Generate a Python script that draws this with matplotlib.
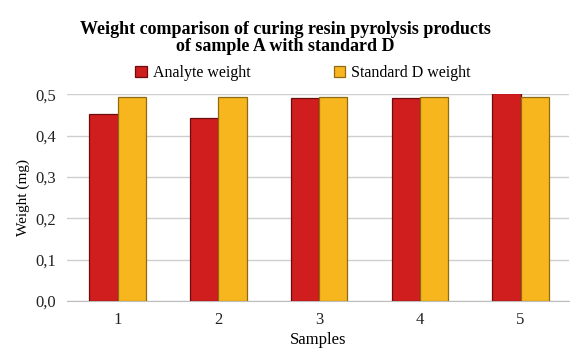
import numpy as np
import matplotlib.pyplot as plt
from matplotlib.ticker import FuncFormatter

plt.rcParams['font.family'] = ['Liberation Serif', 'DejaVu Serif']

samples = ['1', '2', '3', '4', '5']
analyte = [0.453, 0.443, 0.490, 0.490, 0.502]
standard = [0.493, 0.493, 0.492, 0.492, 0.492]

fig = plt.figure(figsize=(5.7, 3.5), dpi=100)
ax = fig.add_axes([0.118, 0.14, 0.88, 0.591])

x = np.arange(len(samples))
w = 0.28
ax.bar(x - w / 2, analyte, w, color='#d01e1e', edgecolor='#6e0c0c', linewidth=0.9,
       label='Analyte weight', zorder=3)
ax.bar(x + w / 2, standard, w, color='#f7b61e', edgecolor='#8f6a10', linewidth=0.9,
       label='Standard D weight', zorder=3)

ax.set_xlim(-0.5, 4.48)
ax.set_ylim(0, 0.5)
ax.set_yticks(np.arange(0, 0.51, 0.1))
ax.yaxis.set_major_formatter(FuncFormatter(lambda v, p: f'{v:.1f}'.replace('.', ',')))
ax.set_xticks(x)
ax.set_xticklabels(samples)
ax.tick_params(axis='both', length=0, labelsize=12, colors='#222222', pad=8)
ax.grid(axis='y', color='#cfcfcf', linewidth=1, zorder=0)
for s in ['top', 'right', 'left']:
    ax.spines[s].set_visible(False)
ax.spines['bottom'].set_color('#bdbdbd')

ax.set_ylabel('Weight (mg)', fontsize=11, labelpad=4)
ax.set_xlabel('Samples', fontsize=12, labelpad=3)

fig.suptitle('Weight comparison of curing resin pyrolysis products\nof sample A with standard D',
             fontsize=13, fontweight='bold', y=0.94, linespacing=1.0)
ax.legend(loc='lower center', bbox_to_anchor=(0.47, 1.015), ncol=2, frameon=False,
          fontsize=11.5, handlelength=0.7, handleheight=0.7, columnspacing=5.2,
          handletextpad=0.4, borderaxespad=0.2)

fig.savefig('out.png', dpi=100)
